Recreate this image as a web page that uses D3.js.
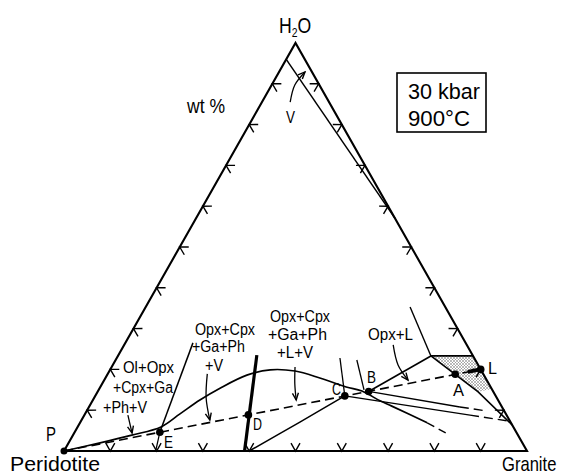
<!DOCTYPE html>
<html>
<head>
<meta charset="utf-8">
<script src="https://cdn.jsdelivr.net/npm/d3@7"></script>
<style>
  body { margin: 0; background: #fff; }
  svg text { font-family: "Liberation Sans", Arial, sans-serif; fill: #000; }
</style>
</head>
<body>
<svg id="chart" width="565" height="476"></svg>
<script>
// compositions in wt% as [H2O, Granite]; peridotite is the rest
const tickValues = [10, 20, 30, 40, 50, 60, 70, 80, 90];
const pointNames = ['P', 'E', 'D', 'C', 'B', 'A', 'L'];
const pointComps = [[0, 0], [4.6, 18.4], [8.85, 35.4], [13.5, 53.9], [14.6, 58.5], [18.8, 75.1], [20, 80]];

const solidusSolid = [[0, 0], [2.0, 6.8], [3.9, 12.7], [5.9, 18.0], [9.1, 20.5], [12.5, 23.1], [15.4, 26.0],
  [18.6, 30.2], [19.9, 34.6], [19.6, 40.1], [17.9, 46.3], [15.7, 53.1], [14.7, 57.0], [12.3, 62.1],
  [11.0, 65.3], [6.9, 75.0]];
const solidusDashed = [[6.9, 75.0], [3.9, 81.4]];
const vaporLimit = [[96, 0], [57, 43]];
const eLine = [[4.6, 18.4], [26.5, 14.6]];
const eTail = [[4.6, 18.4], [0, 19.8]];
const dLine = [[23.5, 29.9], [0, 39]];
const cToBase = [[0, 40], [7.1, 47.4], [13.5, 53.9]];
const cUpper = [[22.8, 48.2], [13.5, 53.9]];
const bUpper = [[22.3, 52.1], [15.0, 57.3]];
const cornerUpper = [[35.3, 57.1], [23.3, 67.6]];
const cornerFlat = [[23.3, 67.6], [23.3, 76.7]];
const bToCorner = [[14.6, 58.5], [23.3, 67.6]];
const cornerDown = [[23.3, 67.6], [14.5, 82.2], [6.4, 93.6]];
const shadedField = [[23.3, 67.6], [23.3, 76.7], [15.2, 84.8], [14.5, 82.2]];
const bRightSolid = [[14.6, 58.5], [10.8, 80.1]];
const bRightDashed = [[10.8, 80.1], [9.8, 86.5]];
const cRightSolid = [[13.5, 53.9], [8.8, 83.3]];
const cRightDashed = [[8.8, 83.3], [7.4, 92.0]];
const lStub = [[19.4, 77.5], [20, 80]];

const leaders = [
  [[8.8, 9.4], [4.4, 12.5]],
  [[18.9, 21.5], [13.0, 24.2], [7.6, 27.7]],
  [[20.6, 39.6], [16.5, 41.6], [12.5, 43.9]],
  [[26.0, 58.1], [21.1, 61.6], [17.4, 65.6]],
  [[85.5, 6.1], [89.7, 5.0], [92.9, 5.6]]
];

const svg = d3.select('#chart');
const x = d3.scaleLinear().domain([0, 100]).range([64, 527]);
const y = d3.scaleLinear().domain([0, 100]).range([451, 43]);
const proj = ([w, g]) => [x(g + w / 2), y(w)];

const straight = d3.line().x(d => proj(d)[0]).y(d => proj(d)[1]);
const smooth = d3.line().x(d => proj(d)[0]).y(d => proj(d)[1]).curve(d3.curveCatmullRom.alpha(0.5));

const defs = svg.append('defs');
defs.append('marker')
  .attr('id', 'arr')
  .attr('markerUnits', 'userSpaceOnUse')
  .attr('markerWidth', 12).attr('markerHeight', 12)
  .attr('refX', 0).attr('refY', 0)
  .attr('viewBox', '-10 -6 12 12')
  .attr('orient', 'auto')
  .append('path')
  .attr('d', 'M-7,-3L0,0L-7,3')
  .attr('fill', 'none').attr('stroke', '#000').attr('stroke-width', 1.4);

const pat = defs.append('pattern')
  .attr('id', 'stipple').attr('patternUnits', 'userSpaceOnUse')
  .attr('width', 3).attr('height', 3);
pat.append('circle').attr('cx', 1).attr('cy', 1).attr('r', 0.75).attr('fill', '#555');
pat.append('circle').attr('cx', 2.5).attr('cy', 2.4).attr('r', 0.5).attr('fill', '#777');

// shaded field near L
svg.append('path')
  .attr('d', straight(shadedField) + 'Z')
  .attr('fill', 'url(#stipple)');

// triangle
svg.append('path')
  .attr('d', straight([[0, 0], [0, 100], [100, 0]]) + 'Z')
  .attr('fill', 'none').attr('stroke', '#000').attr('stroke-width', 2.1)
  .attr('stroke-linejoin', 'miter');

// edge ticks: chevrons pointing outward
const edges = [
  { pts: tickValues.map(v => [v, 0]), a: [0, 0], b: [100, 0] },
  { pts: tickValues.map(v => [v, 100 - v]), a: [100, 0], b: [0, 100] },
  { pts: tickValues.map(v => [0, v]), a: [0, 100], b: [0, 0] }
];
const centroid = proj([33.3, 33.3]);
edges.forEach(e => {
  const pa = proj(e.a), pb = proj(e.b);
  let dx = pb[0] - pa[0], dy = pb[1] - pa[1];
  const len = Math.hypot(dx, dy);
  let nx = -dy / len, ny = dx / len;
  if ((centroid[0] - pa[0]) * nx + (centroid[1] - pa[1]) * ny < 0) { nx = -nx; ny = -ny; }
  const rot = (a) => [nx * Math.cos(a) - ny * Math.sin(a), nx * Math.sin(a) + ny * Math.cos(a)];
  const r1 = rot(Math.PI / 6), r2 = rot(-Math.PI / 6);
  const L = 9;
  svg.append('g').selectAll('path')
    .data(e.pts)
    .enter().append('path')
    .attr('d', d => {
      const p = proj(d);
      return `M${p[0] + r1[0] * L},${p[1] + r1[1] * L}L${p[0]},${p[1]}L${p[0] + r2[0] * L},${p[1] + r2[1] * L}`;
    })
    .attr('fill', 'none').attr('stroke', '#000').attr('stroke-width', 1.4);
});

// phase boundaries
function draw(data, opts) {
  return svg.append('path')
    .attr('d', (opts.smooth ? smooth : straight)(data))
    .attr('fill', 'none')
    .attr('stroke', '#000')
    .attr('stroke-width', opts.w || 1.5)
    .attr('stroke-dasharray', opts.dash || null)
    .attr('stroke-linecap', 'butt');
}

draw(vaporLimit, { w: 1.5 });
draw(solidusSolid, { smooth: true, w: 1.7 });
draw(solidusDashed, { dash: '8,5', w: 1.4 });
draw(eLine, { w: 1.5 });
draw(eTail, { w: 1.2 });
draw(dLine, { w: 3.2 });
draw(cToBase, { smooth: true, w: 1.5 });
draw(cUpper, { w: 1.3 });
draw(bUpper, { w: 1.3 });
draw(cornerUpper, { w: 1.4 });
draw(cornerFlat, { w: 1.7 });
draw(bToCorner, { w: 1.6 });
draw(cornerDown, { w: 1.6 });
draw(bRightSolid, { w: 1.4 });
draw(bRightDashed, { dash: '9,5', w: 1.4 });
draw(cRightSolid, { w: 1.4 });
draw(cRightDashed, { dash: '9,5', w: 1.4 });
draw([pointComps[0], pointComps[6]], { dash: '9,5', w: 1.6 });
draw(lStub, { w: 4 });

leaders.forEach(l => {
  svg.append('path')
    .attr('d', smooth(l))
    .attr('fill', 'none').attr('stroke', '#000').attr('stroke-width', 1.3)
    .attr('marker-end', 'url(#arr)');
});

// invariant points
svg.append('g').selectAll('circle')
  .data(pointComps)
  .enter().append('circle')
  .attr('cx', d => proj(d)[0])
  .attr('cy', d => proj(d)[1])
  .attr('r', (d, i) => i === 0 ? 3.5 : 3.8)
  .attr('fill', '#000');

// text
function label(t, x0, yb, size, width) {
  const el = svg.append('text')
    .attr('x', x0).attr('y', yb)
    .style('font-size', size + 'px')
    .text(t);
  if (width) el.attr('textLength', width).attr('lengthAdjust', 'spacingAndGlyphs');
  return el;
}

const apexLabel = svg.append('text')
  .attr('transform', 'translate(279,33) scale(0.8,1)')
  .style('font-size', '22px');
apexLabel.append('tspan').text('H');
apexLabel.append('tspan').attr('dy', 4).style('font-size', '13px').text('2');
apexLabel.append('tspan').attr('dy', -4).text('O');

label('wt %', 187, 113, 21, 38);
label('V', 286, 123, 17, 9);

svg.append('rect')
  .attr('x', 397).attr('y', 73).attr('width', 89).attr('height', 59)
  .attr('fill', 'none').attr('stroke', '#000').attr('stroke-width', 1.6);
label('30 kbar', 408, 99, 22, 72);
label('900\u00b0C', 408, 126, 22, 62);

label('P', 46, 441, 20, 10);
label('Peridotite', 10, 471, 20, 90);
svg.append('text')
  .attr('transform', 'translate(502,471) scale(0.83,1)')
  .style('font-size', '20px')
  .text('Granite');

label('Ol+Opx', 123, 373, 16, 51);
label('+Cpx+Ga', 113, 393, 16, 60);
label('+Ph+V', 103, 413, 16, 44);
label('Opx+Cpx', 195, 335, 16, 60);
label('+Ga+Ph', 192, 352, 16, 53);
label('+V', 205, 371, 16, 18);
label('Opx+Cpx', 270, 322, 16, 60);
label('+Ga+Ph', 268, 340, 16, 59);
label('+L+V', 277, 358, 16, 36);
label('Opx+L', 368, 340, 16, 45);

const letterPos = { E: [164, 448], D: [253, 430], C: [332, 395], B: [367, 383], A: [453, 396], L: [488, 374] };
pointNames.slice(1).forEach(n => label(n, letterPos[n][0], letterPos[n][1], 16, n === 'A' ? 11 : 9));
</script>
</body>
</html>
